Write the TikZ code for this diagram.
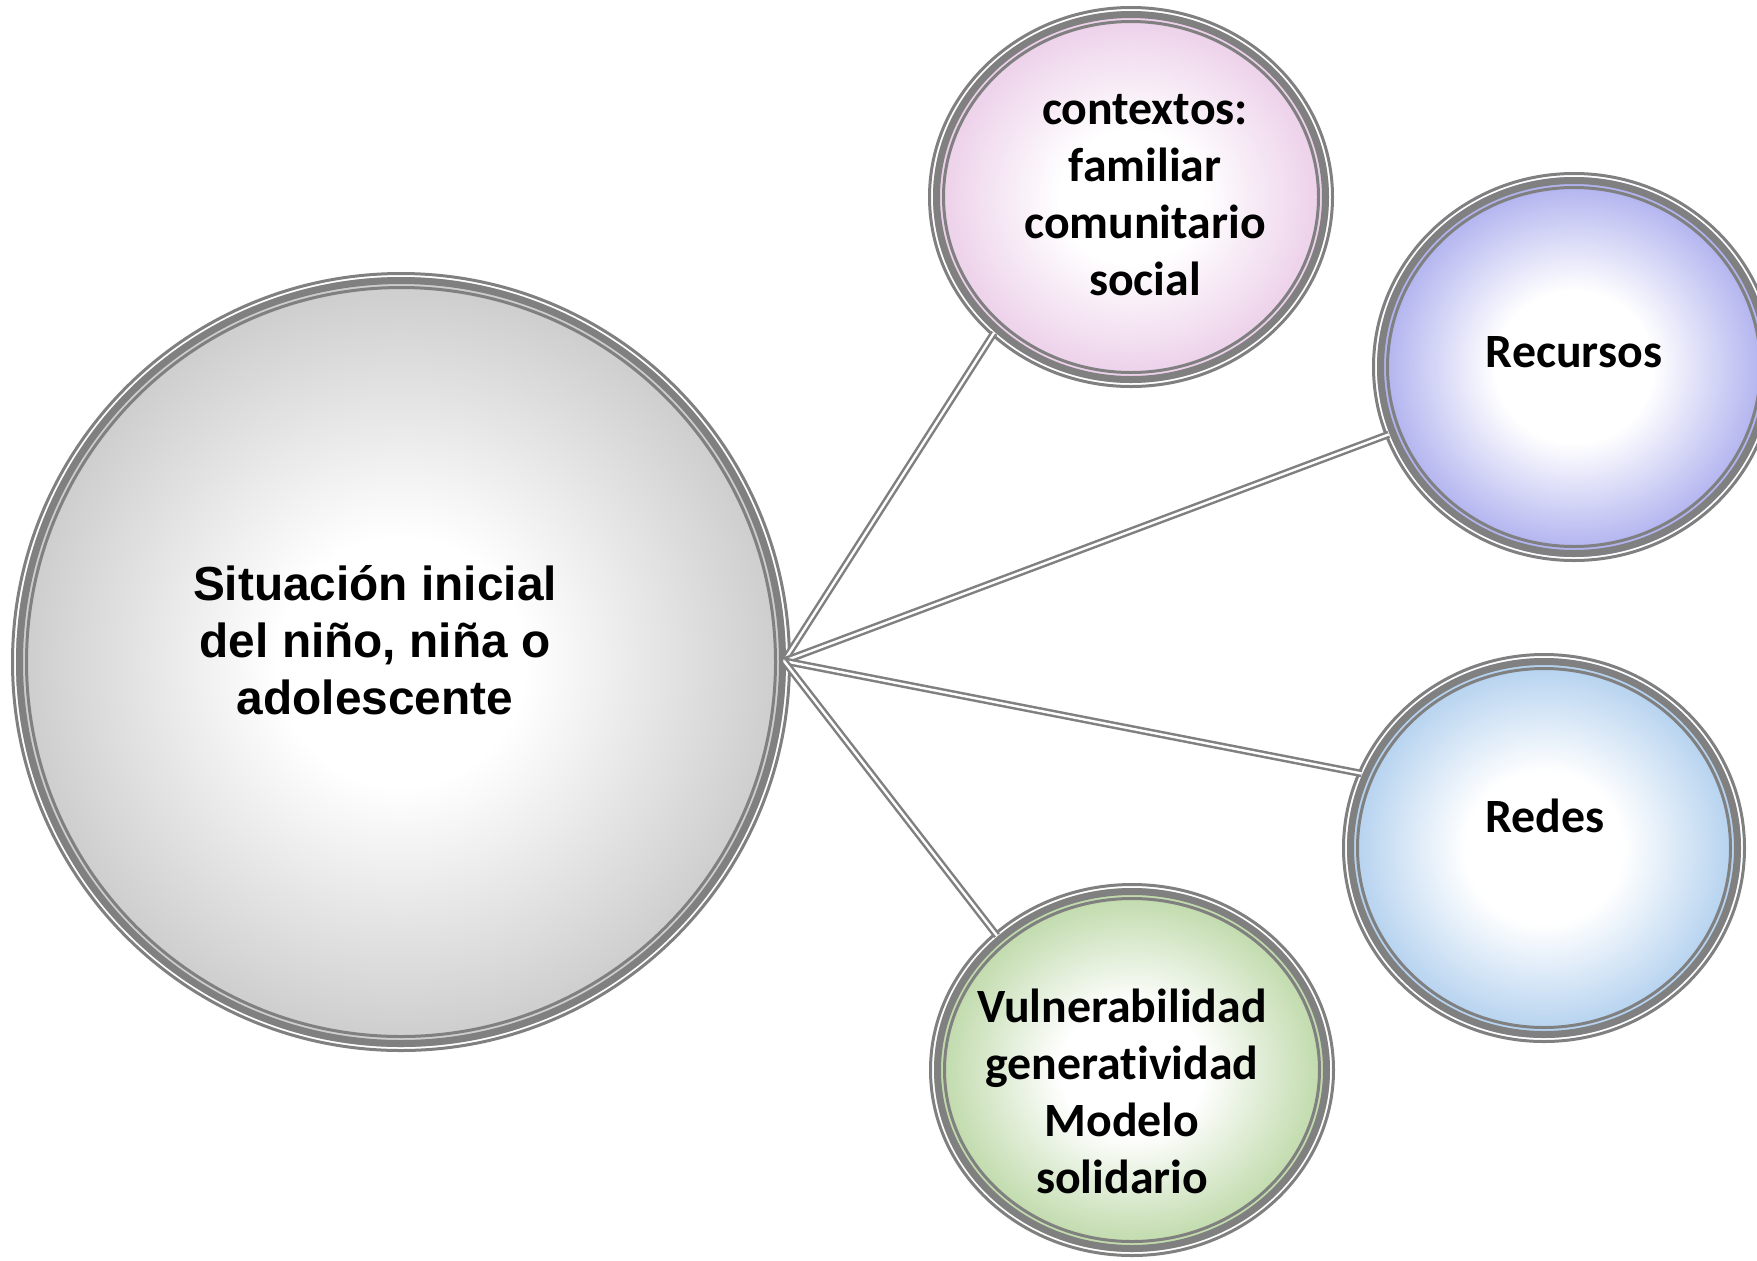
\documentclass[tikz,border=0pt]{standalone}
\usepackage{fontspec}
\newfontfamily\lsans{Liberation Sans}
\newfontfamily\calib{Carlito}[Ligatures=NoCommon]
\usetikzlibrary{shapes.geometric}
\definecolor{ringgray}{HTML}{808080}
\definecolor{cgray}{HTML}{CCCCCC}
\definecolor{cpink}{HTML}{EBCDE8}
\definecolor{cviolet}{HTML}{ACAEEE}
\definecolor{cblue}{HTML}{B0CFEE}
\definecolor{cgreen}{HTML}{BCD8A6}
\pgfdeclareradialshading{shgray}{\pgfpoint{0bp}{0bp}}{color(0bp)=(white); color(8bp)=(white); color(25bp)=(cgray); color(50bp)=(cgray)}
\pgfdeclareradialshading{shpink}{\pgfpoint{0bp}{0bp}}{color(0bp)=(white); color(9bp)=(white); color(25bp)=(cpink); color(50bp)=(cpink)}
\pgfdeclareradialshading{shviolet}{\pgfpoint{0bp}{0bp}}{color(0bp)=(white); color(10bp)=(white); color(25bp)=(cviolet); color(50bp)=(cviolet)}
\pgfdeclareradialshading{shblue}{\pgfpoint{0bp}{0bp}}{color(0bp)=(white); color(10bp)=(white); color(25bp)=(cblue); color(50bp)=(cblue)}
\pgfdeclareradialshading{shgreen}{\pgfpoint{0bp}{0bp}}{color(0bp)=(white); color(9bp)=(white); color(25bp)=(cgreen); color(50bp)=(cgreen)}
\newcommand{\ringdraw}[4]{%
  \fill[white] (#1.center) ellipse [x radius=#2pt, y radius=#3pt];
  \shade[shading=#4] (#1.center) ellipse [x radius=#2pt-2.5pt, y radius=#3pt-2.5pt];
  \draw[ringgray, line width=1.5pt] (#1.center) ellipse [x radius=#2pt-0.75pt, y radius=#3pt-0.75pt];
  \draw[ringgray, line width=3.5pt] (#1.center) ellipse [x radius=#2pt-4.25pt, y radius=#3pt-4.25pt];
  \draw[ringgray, line width=1.5pt] (#1.center) ellipse [x radius=#2pt-7.75pt, y radius=#3pt-7.75pt];
}
\tikzset{
  circnode/.style={ellipse, inner sep=0pt, outer sep=0pt},
  bigtext/.style={align=center, font={\lsans\bfseries\fontsize{23.9}{28.5}\selectfont}},
  smalltext/.style={align=center, font={\calib\bfseries\fontsize{23.9}{28.5}\selectfont}},
  link/.style={draw=ringgray, line width=1.25pt, double=white, double distance=1.2pt, shorten >=-2pt}
}
\begin{document}
\begin{tikzpicture}[x=0.5pt, y=-0.5pt]
\useasboundingbox (0,0) rectangle (1757,1260);
% circle nodes (outer borders)
\node[circnode, minimum width=390pt, minimum height=390pt] (big) at (401,662) {};
\node[circnode, minimum width=203pt, minimum height=191pt] (ctx) at (1131,197) {};
\node[circnode, minimum width=202pt, minimum height=195pt] (rec) at (1574,367) {};
\node[circnode, minimum width=202pt, minimum height=195pt] (red) at (1544,848) {};
\node[circnode, minimum width=203pt, minimum height=187pt] (vul) at (1132,1070) {};
% rings and fills
\ringdraw{big}{195}{195}{shgray}
\ringdraw{ctx}{101.5}{95.5}{shpink}
\ringdraw{rec}{101}{97.5}{shviolet}
\ringdraw{red}{101}{97.5}{shblue}
\ringdraw{vul}{101.5}{93.5}{shgreen}
% texts
\node[bigtext] (bigt) at (375,640) {Situación inicial\\del niño, niña o\\adolescente};
\node[smalltext] (ctxt) at (1145,195) {contextos:\\familiar\\comunitario\\social};
\node[smalltext] (rect) at (1574,352) {Recursos};
\node[smalltext] (redt) at (1545,816) {Redes};
\node[smalltext] (vult) at (1122,1091) {Vulnerabilidad\\generatividad\\Modelo\\solidario};
% connectors
\coordinate (hub) at (784,661);
\draw[link] (hub) -- (ctx.225);
\draw[link] (hub) -- (rec.200);
\draw[link] (hub) -- (red.158);
\draw[link] (hub) -- (vul.135);
\end{tikzpicture}
\end{document}
